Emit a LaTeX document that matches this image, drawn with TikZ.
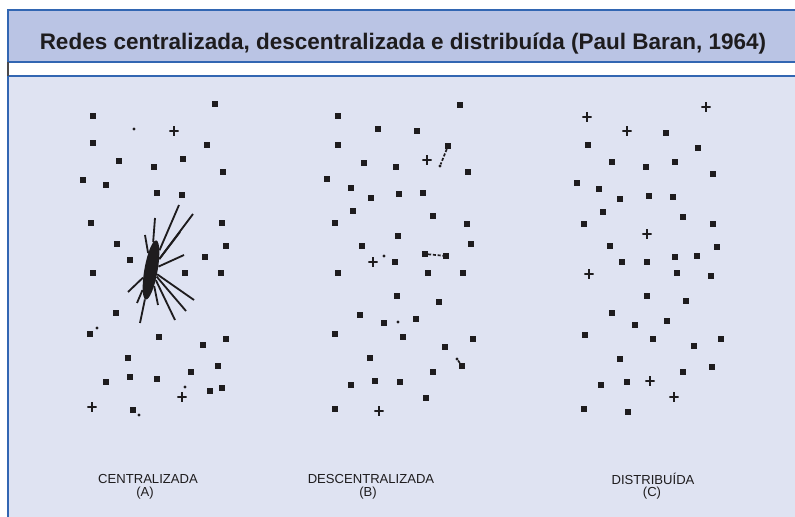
\documentclass[tikz,border=0pt]{standalone}
\usepackage{graphicx}
\usepackage{fontspec}
\setmainfont{Liberation Sans}
\usetikzlibrary{shapes.geometric}
\definecolor{headblue}{RGB}{186,196,228}
\definecolor{panelblue}{RGB}{223,227,242}
\definecolor{edgeblue}{RGB}{50,102,178}
\definecolor{ink}{RGB}{30,28,30}

\begin{document}
\begin{tikzpicture}[
  x=0.025cm, y=-0.025cm,
  dot/.style={rectangle, fill=ink, minimum size=4pt, inner sep=0pt},
  tinydot/.style={circle, fill=ink, minimum size=2.2pt, inner sep=0pt},
  crossdot/.style={rectangle, minimum size=6.5pt, inner sep=0pt,
    path picture={
      \fill[ink] ([yshift=-1pt]path picture bounding box.west) rectangle ([yshift=1pt]path picture bounding box.east);
      \fill[ink] ([xshift=-1pt]path picture bounding box.south) rectangle ([xshift=1pt]path picture bounding box.north);}},
  hubnode/.style={ellipse, fill=ink, minimum width=0.33cm, minimum height=1.5cm, inner sep=0pt, rotate=-10},
  spoke/.style={draw=ink, line width=1.3pt},
  link/.style={draw=ink, line width=1.2pt, dash pattern=on 2.2pt off 1.2pt},
  netname/.style={font=\fontsize{9.3}{11}\selectfont, text=ink, inner sep=0pt},
]
\useasboundingbox (0,0) rectangle (795,517);

% Frame
\fill[white] (0,0) rectangle (795,517);
\fill[headblue] (8,10) rectangle (795,62);
\fill[panelblue] (8,76) rectangle (795,517);
\draw[edgeblue, line width=0.8pt] (795,10) -- (8,10) -- (8,62) -- (795,62);
\draw[edgeblue, line width=0.8pt] (795,76) -- (8,76) -- (8,517);
\draw[ink!80, line width=0.8pt] (8,62) -- (8,76);

% Title
\node[font=\bfseries\fontsize{16}{19}\selectfont, text=ink, anchor=base] (title) at (403,50)
  {Redes centralizada, descentralizada e distribuída (Paul Baran, 1964)};

% Centralizada (A)
\node[hubnode] (hub) at (151,270) {};
\foreach \x/\y [count=\i] in {179/205, 155/218, 145/235, 180/232, 184/255, 193/214,
    140/323, 158/305, 175/320, 186/311, 137/303, 194/300, 128/292}
  \coordinate (s\i) at (\x,\y);
\foreach \i in {1,...,13}
  \draw[spoke] (hub) -- (s\i);
\foreach \x/\y [count=\i] in {215/104, 93/116, 93/143, 207/145, 119/161, 183/159, 154/167,
    223/172, 83/180, 106/185, 157/193, 182/195, 91/223, 222/223, 117/244, 226/246,
    130/260, 205/257, 93/273, 185/273, 221/273, 116/313, 90/334, 159/337, 203/345,
    226/339, 128/358, 218/366, 191/372, 106/382, 130/377, 157/379, 133/410, 222/388, 210/391}
  \node[dot] (a\i) at (\x,\y) {};
\foreach \x/\y [count=\i] in {174/131, 182/397, 92/407}
  \node[crossdot] (ac\i) at (\x,\y) {};
\foreach \x/\y [count=\i] in {134/129, 97/328, 185/387, 139/415}
  \node[tinydot] (at\i) at (\x,\y) {};
\node[netname] (nameA) at (148,479) {CENTRALIZADA};
\node[netname] (tagA) at (145,493) {(A)};

% Descentralizada (B)
\foreach \x/\y [count=\i] in {460/105, 338/116, 378/129, 417/131, 338/145, 448/146,
    364/163, 396/167, 468/172, 327/179, 351/188, 371/198, 399/194, 423/193, 353/211,
    335/223, 433/216, 467/224, 398/236, 362/246, 471/244, 395/262, 425/254, 446/256,
    338/273, 428/273, 463/273, 397/296, 439/302, 360/315, 384/323, 416/319, 335/334,
    403/337, 473/339, 445/347, 370/358, 462/366, 433/372, 351/385, 375/381, 400/382,
    426/398, 335/409}
  \node[dot] (b\i) at (\x,\y) {};
\foreach \x/\y [count=\i] in {427/160, 373/262, 379/411}
  \node[crossdot] (bc\i) at (\x,\y) {};
\foreach \x/\y [count=\i] in {440/166, 384/256, 398/322, 457/359}
  \node[tinydot] (bt\i) at (\x,\y) {};
\draw[link] (b6) -- (bt1);
\draw[link] (b23) -- (b24);
\draw[link] (bt4) -- (b38);
\node[netname] (nameB) at (371,479) {DESCENTRALIZADA};
\node[netname] (tagB) at (368,493) {(B)};

% Distribuida (C)
\foreach \x/\y [count=\i] in {666/133, 588/145, 698/148, 612/162, 646/167, 675/162,
    713/174, 577/183, 599/189, 620/199, 649/196, 673/197, 603/212, 584/224, 683/217,
    713/224, 610/246, 717/247, 622/262, 647/262, 675/257, 697/256, 677/273, 711/276,
    647/296, 686/301, 612/313, 635/325, 667/321, 585/335, 653/339, 721/339, 694/346,
    620/359, 712/367, 683/372, 601/385, 627/382, 584/409, 628/412}
  \node[dot] (c\i) at (\x,\y) {};
\foreach \x/\y [count=\i] in {706/107, 587/117, 627/131, 647/234, 589/274, 650/381, 674/397}
  \node[crossdot] (cc\i) at (\x,\y) {};
\node[netname] (nameC) at (653,479) {DISTRIBUÍDA};
\node[netname] (tagC) at (652,493) {(C)};

\end{tikzpicture}
\end{document}
